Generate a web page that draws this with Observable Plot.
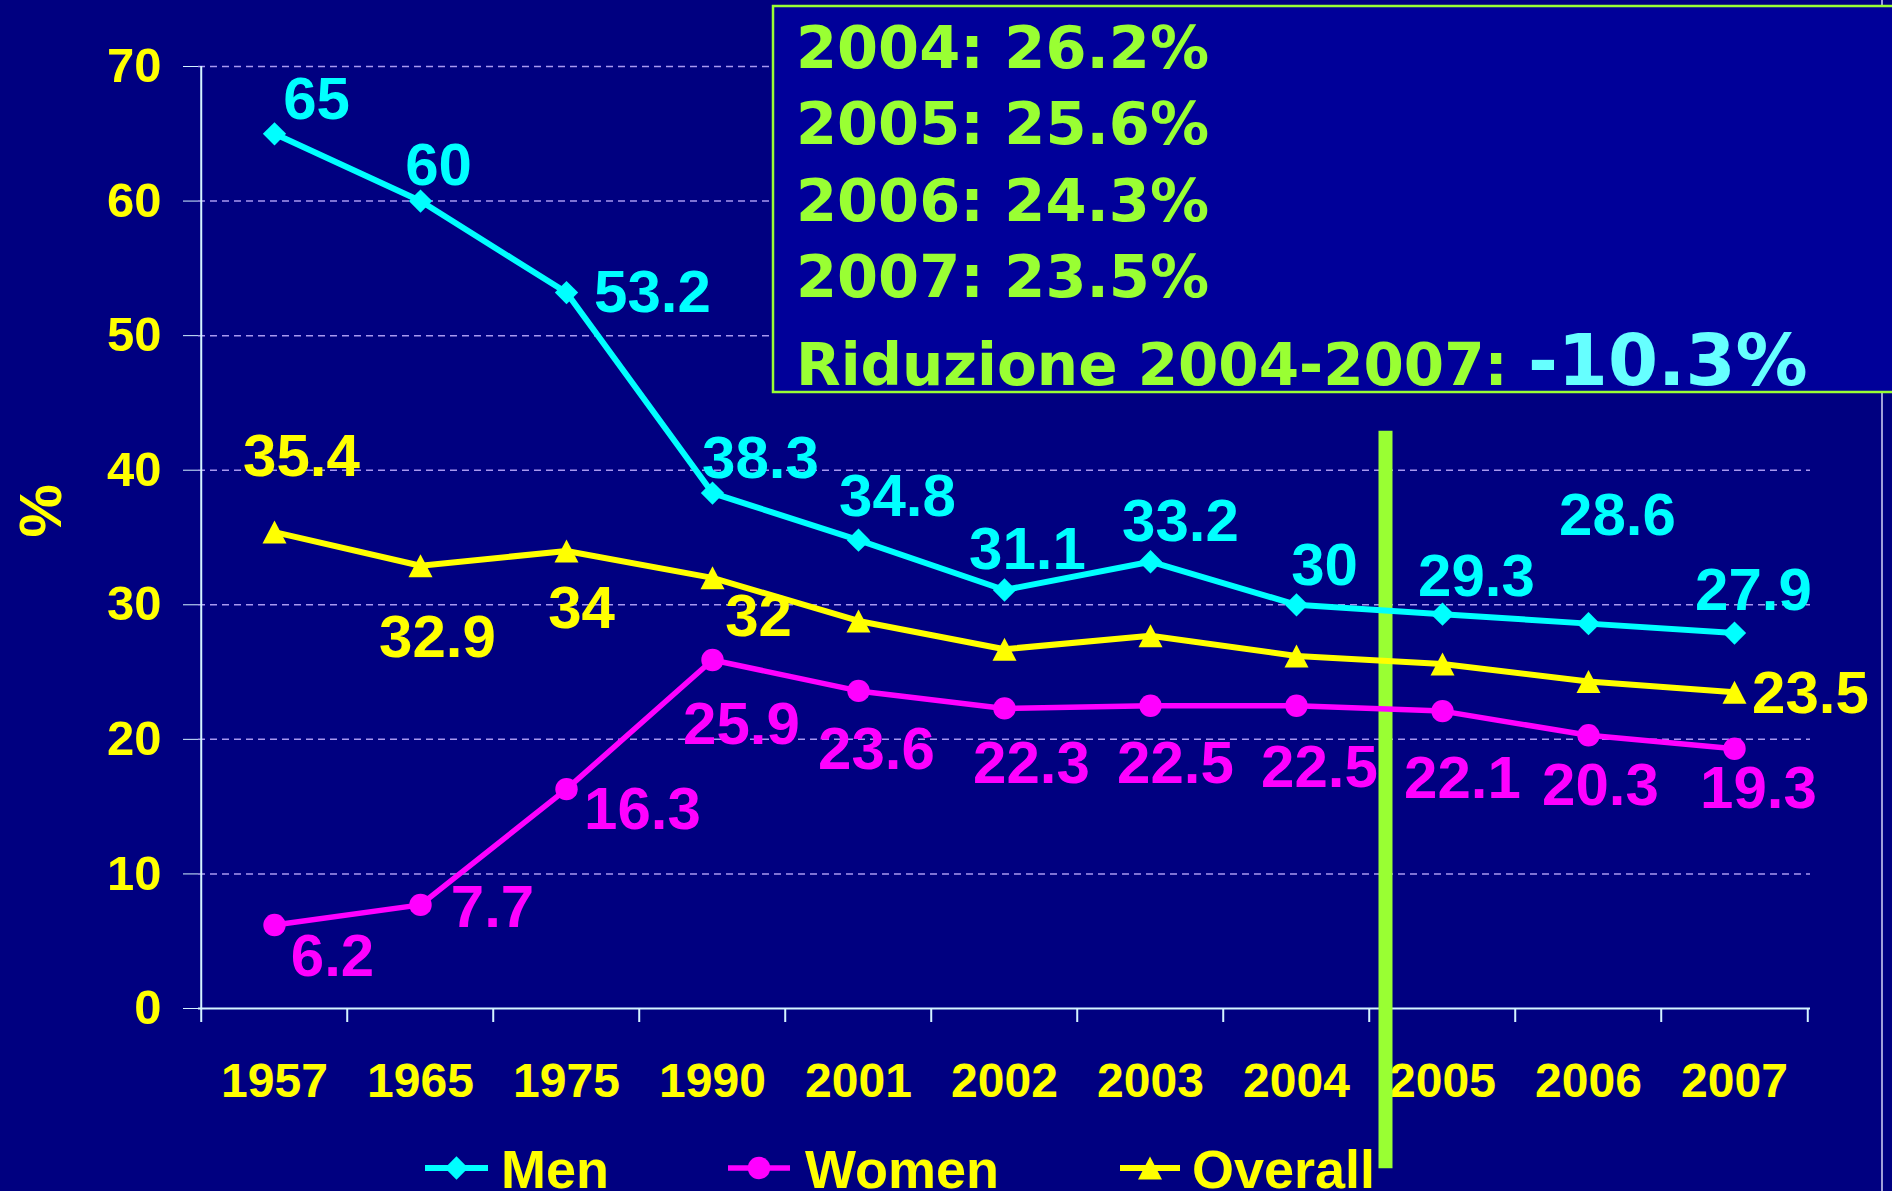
<!DOCTYPE html>
<html>
<head>
<meta charset="utf-8">
<script src="https://cdn.jsdelivr.net/npm/d3@7"></script>
<script src="https://cdn.jsdelivr.net/npm/@observablehq/plot@0.6"></script>
<style>
html,body{margin:0;padding:0;background:#000080;overflow:hidden;}
#wrap{position:relative;width:1892px;height:1191px;overflow:hidden;background:#000080;}
</style>
</head>
<body>
<div id="wrap"></div>
<script>
// ---- data ----
const years = ["1957","1965","1975","1990","2001","2002","2003","2004","2005","2006","2007"];
const men = [65, 60, 53.2, 38.3, 34.8, 31.1, 33.2, 30, 29.3, 28.6, 27.9];
const women = [6.2, 7.7, 16.3, 25.9, 23.6, 22.3, 22.5, 22.5, 22.1, 20.3, 19.3];
const overall = [35.4, 32.9, 34, 32, 28.8, 26.7, 27.7, 26.2, 25.6, 24.3, 23.5];
const overallLabelled = [true, true, true, true, false, false, false, false, false, false, true];
const seriesNames = ["Men", "Women", "Overall"];
const yTicks = [0, 10, 20, 30, 40, 50, 60, 70];
const yLabel = "%";
const boxLines = ["2004: 26.2%", "2005: 25.6%", "2006: 24.3%", "2007: 23.5%"];
const boxSummary = "Riduzione 2004-2007: ";
const boxChange = "-10.3%";
const dividerBefore = "2005";

// ---- layout / styles ----
const W = 1892, H = 1191, ML = 198, MR = 82, MT = 66, MB = 183;
const bw = (W - ML - MR) / years.length;
const pxPerUnit = (H - MT - MB) / 70;
const colors = {Men: "#00ffff", Women: "#ff00ff", Overall: "#ffff00"};
const lineWidths = {Men: 6, Women: 5.5, Overall: 6};
// triangle slightly taller than equilateral, centred on its bounding box
const tallTriangle = {
  draw(ctx, size) {
    const r = Math.sqrt(size / Math.PI);
    ctx.moveTo(0, -1.15 * r);
    ctx.lineTo(1.2 * r, 1.15 * r);
    ctx.lineTo(-1.2 * r, 1.15 * r);
    ctx.closePath();
  }
};
const symbols = {Men: d3.symbolDiamond2, Women: d3.symbolCircle, Overall: tallTriangle};
const radii = {Men: 10.5, Women: 11.2, Overall: 10};
const labelOffsets = {
  Men: [[42,-34],[18,-35],[86,0],[48,-34],[39,-43],[23,-40],[30,-40],[28,-39],[34,-37],[29,-108],[19,-42]],
  Women: [[58,32],[72,3],[76,21],[29,65],[18,59],[27,55],[25,58],[23,62],[20,68],[12,50],[24,40]],
  Overall: [[27,-75],[17,72],[15,58],[46,39],null,null,null,null,null,null,[76,2]]
};
const FONT = "'Liberation Sans', Arial, Helvetica, sans-serif";
const BOXFONT = "'DejaVu Sans', Verdana, sans-serif";
const axisColor = "#d4f4ff";

const seriesValues = {Men: men, Women: women, Overall: overall};
const table = seriesNames.map(s => years.map((year, i) => ({series: s, year, value: seriesValues[s][i]})));

const marks = [
  Plot.ruleY(yTicks.filter(t => t > 0), {stroke: "#a898f0", strokeDasharray: "7,5", strokeWidth: 1.5}),
  Plot.ruleY([0], {stroke: axisColor, strokeWidth: 2}),
  Plot.ruleX([years[0]], {dx: -bw / 2, y1: 0, y2: 70, stroke: axisColor, strokeWidth: 2}),
  Plot.ruleX(years, {dx: -bw / 2, y1: 0, y2: -14 / pxPerUnit, stroke: axisColor, strokeWidth: 2}),
  Plot.ruleX([years[years.length - 1]], {dx: bw / 2, y1: 0, y2: -14 / pxPerUnit, stroke: axisColor, strokeWidth: 2}),
  Plot.axisY({ticks: yTicks, tickSize: 15, tickPadding: 22, stroke: axisColor, fill: "#ffff00", fontSize: 49, fontWeight: "bold", label: null}),
  Plot.axisX({tickSize: 0, tickPadding: 54, fill: "#ffff00", fontSize: 48, fontWeight: "bold", label: null}),
  Plot.text([yLabel], {frameAnchor: "left", dx: -157, rotate: -90, fontSize: 60, fontWeight: "bold", fill: "#ffff00"}),
  Plot.ruleX([dividerBefore], {dx: -57, y1: 42.9, y2: -11.9, stroke: "#99ff33", strokeWidth: 14})
];

for (const rows of table) {
  const s = rows[0].series;
  marks.push(Plot.line(rows, {x: "year", y: "value", stroke: colors[s], strokeWidth: lineWidths[s]}));
  marks.push(Plot.dot(rows, {x: "year", y: "value", symbol: symbols[s], r: radii[s], fill: colors[s], stroke: "none"}));
}
for (const rows of table) {
  const s = rows[0].series;
  rows.forEach((d, i) => {
    const off = labelOffsets[s][i];
    if (!off) return;
    if (s === "Overall" && !overallLabelled[i]) return;
    marks.push(Plot.text([d], {x: "year", y: "value", text: d => String(d.value), dx: off[0], dy: off[1],
      fill: colors[s], fontSize: 60, fontWeight: "bold"}));
  });
}

const svg = Plot.plot({
  width: W, height: H,
  marginLeft: ML, marginRight: MR, marginTop: MT, marginBottom: MB,
  x: {type: "band", domain: years, padding: 0},
  y: {domain: [0, 70]},
  style: {background: "#000080", color: "#ffff00", fontFamily: FONT, fontWeight: "bold", overflow: "visible"},
  marks
});
document.getElementById("wrap").appendChild(svg);

const g = d3.select(svg).append("g").attr("text-anchor", "start");
// slide frame line on the right
g.append("line").attr("x1", 1882).attr("x2", 1882).attr("y1", 0).attr("y2", H)
  .attr("stroke", "#a0a0d8").attr("stroke-width", 2);

// annotation box
g.append("rect").attr("x", 773).attr("y", 6).attr("width", 1140).attr("height", 386)
  .attr("fill", "#000099").attr("stroke", "#99ff33").attr("stroke-width", 2.5);
const boxBaselines = [68, 144, 221, 297];
boxLines.forEach((t, i) => {
  g.append("text").attr("x", 796).attr("y", boxBaselines[i]).attr("text-anchor", "start")
    .attr("font-family", BOXFONT).attr("font-weight", "bold")
    .attr("font-size", 59).attr("fill", "#99ff33").text(t);
});
const sumText = g.append("text").attr("x", 796).attr("y", 385).attr("text-anchor", "start")
  .attr("font-family", BOXFONT).attr("font-weight", "bold");
sumText.append("tspan").attr("font-size", 58).attr("fill", "#99ff33").text(boxSummary);
sumText.append("tspan").attr("font-size", 72).attr("fill", "#66ffff").text(boxChange);

// legend
const legendPos = [{x0: 425, x1: 488, tx: 501}, {x0: 728, x1: 790, tx: 805}, {x0: 1120, x1: 1180, tx: 1192}];
seriesNames.forEach((s, i) => {
  const p = legendPos[i];
  const ly = 1168;
  g.append("line").attr("x1", p.x0).attr("x2", p.x1).attr("y1", ly).attr("y2", ly)
    .attr("stroke", colors[s]).attr("stroke-width", lineWidths[s]);
  g.append("path").attr("transform", `translate(${(p.x0 + p.x1) / 2},${ly})`)
    .attr("d", d3.symbol(symbols[s], radii[s] * radii[s] * Math.PI)())
    .attr("fill", colors[s]);
  g.append("text").attr("x", p.tx).attr("y", 1188).attr("text-anchor", "start")
    .attr("font-family", FONT).attr("font-weight", "bold")
    .attr("font-size", 54).attr("fill", "#ffff00").text(s);
});
</script>
</body>
</html>
